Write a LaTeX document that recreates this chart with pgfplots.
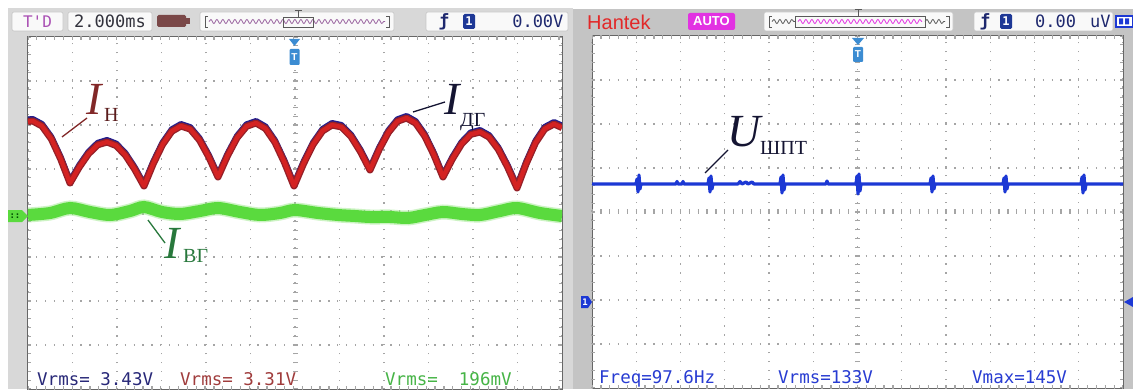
\documentclass[border=0pt]{standalone}
\usepackage{pgfplots}
\pgfplotsset{compat=1.18}
\usepackage{pgfplotstable}
\usepackage{fontspec}
\setmainfont{Liberation Serif}
\newfontfamily\scfont{DejaVu Sans Mono}
\newfontfamily\hfont{Liberation Sans}
\usetikzlibrary{decorations.pathmorphing}
\definecolor{panelL}{RGB}{216,216,216}
\definecolor{panelR}{RGB}{196,196,196}
\definecolor{gridc}{RGB}{165,165,165}
\definecolor{tred}{RGB}{212,34,34}
\definecolor{tdred}{RGB}{150,32,40}
\definecolor{tnavy}{RGB}{36,30,140}
\definecolor{tgreen}{RGB}{90,218,62}
\definecolor{tblue}{RGB}{28,56,212}
\definecolor{trig}{RGB}{60,140,210}
\definecolor{labred}{RGB}{130,40,40}
\definecolor{labgreen}{RGB}{40,120,60}
\definecolor{labnavy}{RGB}{20,20,50}
\definecolor{hdrtxt}{RGB}{50,50,60}
\definecolor{navytxt}{RGB}{30,40,110}
\definecolor{purp}{RGB}{170,80,180}
\definecolor{magen}{RGB}{226,50,226}
\definecolor{badge}{RGB}{30,56,150}
\definecolor{batt}{RGB}{122,72,72}

% left scope: x = screen column, y = offset from centre line (1 div = 44.5 x 44)
\pgfplotstableread{
x y
28 91.5
32.75 92
42 87
51.4 74
60.7 54
70 30
79.25 45.9
88.5 59.25
97.75 68.2
107 71
116.25 67.4
125.5 57.75
134.75 43.7
144 27
153.25 49.4
162.5 68.45
171.75 81.7
181 87
190.25 83.9
199.5 72.95
208.75 56.2
218 36
227.5 57.3
237 75.15
246.5 86.7
256 90
265.5 84.5
275 70.65
284.5 50.5
294 27
303.5 49.3
313 68.5
322.5 82
332 88
341.5 86
351 76.5
360.5 61.3
370 43
379.1 63.4
388.25 80.45
397.4 91.7
406.5 95
415.6 89.9
424.75 76.95
433.9 58.2
443 36
452.25 53.9
461.5 68.95
470.75 78.6
480 81
489.25 75.8
498.5 63.45
507.75 45.7
517 25
526.25 49.5
535.5 70.25
544.75 84.1
554 89
562 85.4
}\redtab

\pgfplotstableread{
x y
28 -2
50 0
70 5
90 1
110 -2
130 2
144 6
162 1
180 -1
200 2
218 5
240 1
260 -2
280 0
295 3
318 0
338 -2
355 -3
370 -4
390 -4
408 -5
425 -2
443 1
462 -1
480 -2
500 2
517 5
540 0
562 -3
}\greentab

\pgfplotstableread{
x y
592 28
636 28
637 33
638 20
639 37
640 23
641 28
676 28
677 30.5
678 28
682 28
683 30.5
684 28
708 28
709 34
710 20
711 36
712 23
713 28
738 28
740 30.5
742 28
746 30
748 28
752 30
754 28
780 28
781 35
782 19
783 37
784 22
785 28
826 28
827 31
828 28
856 28
857 36
858 18
859 38
860 21
861 28
930 28
931 34
932 20
933 36
934 23
935 28
1003 28
1004 34
1005 20
1006 36
1007 23
1008 28
1081 28
1082 35
1083 19
1084 37
1085 22
1086 28
1123 28
}\bluetab

\pgfplotsset{scopegrid/.style={
  x=1pt, y=1pt, anchor=south west,
  ymin=-176, ymax=176,
  axis background/.style={fill=white},
  axis line style={draw=gray!80!black, line width=1pt},
  ytick={-176,-132,-88,-44,0,44,88,132,176},
  xticklabels={}, yticklabels={},
  major tick length=0pt,
  grid=major,
  major grid style={draw=gridc, line width=1.3pt, dash pattern=on 1.3pt off 7.55pt, dash phase=0.65pt},
}}

\begin{document}
\begin{tikzpicture}[x=1pt,y=1pt]
\path[use as bounding box] (0,0) rectangle (1133,389);
\fill[white] (0,0) rectangle (1133,389);
\fill[panelL] (8,0) rectangle (573,381);
\fill[panelR] (573,0) rectangle (1133,380);

% ---------- left header ----------
\tikzset{hbox/.style={fill=white!95!gray, draw=gray!45, line width=0.6pt, rounded corners=2pt}}
\draw[hbox] (12,358) rectangle (63,377);
\node[text=purp, font=\scfont\fontsize{16}{16}\selectfont] at (37.5,367.5) {T'D};
\draw[hbox] (68,358) rectangle (152,377);
\node[text=hdrtxt, font=\scfont\fontsize{17}{17}\selectfont] at (110,367.5) {2.000ms};
\fill[batt, rounded corners=1.5pt] (157,362) rectangle (186,374);
\fill[batt] (186,365) rectangle (190,371);
\draw[hbox] (200,358) rectangle (394,377);
\draw[gray!70!black, line width=0.8pt] (208,373) -- (205,373) -- (205,362) -- (208,362);
\draw[gray!70!black, line width=0.8pt] (386,373) -- (389,373) -- (389,362) -- (386,362);
\draw[purp!60!gray, line width=0.8pt, decorate, decoration={snake, amplitude=2pt, segment length=6pt}] (209,367.5) -- (385,367.5);
\draw[gray!70!black, line width=0.8pt] (283,362) rectangle (313,372);
\draw[gray!70!black, line width=1pt] (298,372) -- (298,378) (294.5,378) -- (301.5,378);
\draw[hbox] (426,358) rectangle (568,377);
\node[text=navytxt, font=\scfont\bfseries\fontsize{17}{17}\selectfont] at (444,367.5) {\char"0192};
\fill[badge, rounded corners=1.5pt] (463,360) rectangle (475,375);
\node[text=white, font=\scfont\bfseries\fontsize{12}{12}\selectfont] at (469,367.5) {1};
\node[anchor=east, text=navytxt, font=\scfont\fontsize{17}{17}\selectfont] at (567,367.5) {0.00V};

% ---------- right header ----------
\node[anchor=west, inner sep=0, text={rgb,255:red,226;green,40;blue,40}, font=\hfont\fontsize{20}{20}\selectfont] at (587,367) {Hantek};
\fill[magen, rounded corners=2pt] (688,359) rectangle (735,376);
\node[text=white, font=\hfont\bfseries\fontsize{13}{13}\selectfont] at (711.5,367.5) {AUTO};
\draw[hbox] (764,358) rectangle (953,377);
\draw[gray!70!black, line width=0.8pt] (772,373) -- (769,373) -- (769,362) -- (772,362);
\draw[gray!70!black, line width=0.8pt] (946,373) -- (949,373) -- (949,362) -- (946,362);
\draw[gray!70!black, line width=0.8pt, decorate, decoration={snake, amplitude=2pt, segment length=6pt}] (772,367.5) -- (795,367.5);
\draw[gray!70!black, line width=0.8pt, decorate, decoration={snake, amplitude=2pt, segment length=6pt}] (925,367.5) -- (945,367.5);
\draw[gray!70!black, line width=0.8pt] (795,362) rectangle (925,373);
\draw[magen, line width=0.8pt, decorate, decoration={snake, amplitude=2pt, segment length=6pt}] (798,367.5) -- (922,367.5);
\draw[gray!70!black, line width=1pt] (858,373) -- (858,379) (854.5,379) -- (861.5,379);
\draw[hbox] (974,358) rectangle (1113,377);
\node[text=navytxt, font=\scfont\bfseries\fontsize{17}{17}\selectfont] at (985,367.5) {\char"0192};
\fill[badge, rounded corners=1.5pt] (1000,360) rectangle (1012,375);
\node[text=white, font=\scfont\bfseries\fontsize{12}{12}\selectfont] at (1006,367.5) {1};
\node[anchor=west, inner sep=0, text=navytxt, font=\scfont\fontsize{17}{17}\selectfont] at (1035,367.5) {0.00};
\node[anchor=west, inner sep=0, text=navytxt, font=\scfont\fontsize{17}{17}\selectfont] at (1090,367.5) {uV};
\draw[tblue, line width=1.2pt, fill=white] (1116,362) rectangle (1133,373);
\fill[tblue] (1119,364.5) rectangle (1123,370.5) (1125,364.5) rectangle (1129,370.5);

% ---------- left scope ----------
\begin{axis}[scopegrid, at={(28,0)},
  xmin=28, xmax=562,
  xtick={28,72.5,117,161.5,206,250.5,295,339.5,384,428.5,473,517.5,562}]
\draw[gridc, line width=5pt, dash pattern=on 1.3pt off 7.55pt, dash phase=0.65pt] (axis cs:28,0) -- (axis cs:562,0);
\draw[gridc, line width=5pt, dash pattern=on 1.3pt off 7.5pt, dash phase=0.65pt] (axis cs:295,-176) -- (axis cs:295,176);
\draw[gridc, line width=6pt, dash pattern=on 1.3pt off 7.55pt, dash phase=0.65pt] (axis cs:28,176) -- (axis cs:562,176) (axis cs:28,-176) -- (axis cs:562,-176);
\draw[gridc, line width=6pt, dash pattern=on 1.3pt off 7.5pt, dash phase=0.65pt] (axis cs:28,-176) -- (axis cs:28,176) (axis cs:562,-176) -- (axis cs:562,176);
\addplot[tgreen!60!white, line width=15pt, smooth, tension=0.5, opacity=0.5] table {\greentab};
\addplot[tgreen, line width=12pt, smooth, tension=0.5] table {\greentab};
\addplot[tnavy, line width=6pt, line join=round, yshift=2pt] table {\redtab};
\addplot[tdred, line width=7pt, line join=round] table {\redtab};
\addplot[tred, line width=4.3pt, line join=round] table {\redtab};
\end{axis}

% ---------- right scope ----------
\begin{axis}[scopegrid, at={(592,1)},
  xmin=592, xmax=1123,
  xtick={592,636.25,680.5,724.75,769,813.25,857.5,901.75,946,990.25,1034.5,1078.75,1123}]
\draw[gridc, line width=5pt, dash pattern=on 1.3pt off 7.55pt, dash phase=0.65pt] (axis cs:592,0) -- (axis cs:1123,0);
\draw[gridc, line width=5pt, dash pattern=on 1.3pt off 7.5pt, dash phase=0.65pt] (axis cs:857.5,-176) -- (axis cs:857.5,176);
\draw[gridc, line width=6pt, dash pattern=on 1.3pt off 7.55pt, dash phase=0.65pt] (axis cs:592,176) -- (axis cs:1123,176) (axis cs:592,-176) -- (axis cs:1123,-176);
\draw[gridc, line width=6pt, dash pattern=on 1.3pt off 7.5pt, dash phase=0.65pt] (axis cs:592,-176) -- (axis cs:592,176) (axis cs:1123,-176) -- (axis cs:1123,176);
\addplot[tblue, line width=3.2pt, line join=round] table {\bluetab};
\end{axis}

% ---------- markers ----------
\fill[trig] (289,350) -- (300,350) -- (294.5,343) -- cycle;
\fill[trig, rounded corners=1pt] (289.5,324) rectangle (299.5,340);
\node[text=white, font=\hfont\bfseries\fontsize{10}{10}\selectfont] at (294.5,332) {T};
\fill[trig] (852,351) -- (864,351) -- (858,344) -- cycle;
\fill[trig, rounded corners=1pt] (853,327) rectangle (863,342);
\node[text=white, font=\hfont\bfseries\fontsize{10}{10}\selectfont] at (858,334.5) {T};
\fill[tgreen] (8,179) -- (22,179) -- (28,173) -- (22,167) -- (8,167) -- cycle;
\node[text=green!30!black, font=\scfont\bfseries\fontsize{9}{9}\selectfont] at (15,173) {::};
\fill[tblue] (581,93) -- (588,93) -- (592,87) -- (588,81) -- (581,81) -- cycle;
\node[text=white, font=\scfont\bfseries\fontsize{9}{9}\selectfont] at (585,87) {1};
\fill[tblue] (1124,87) -- (1133,92) -- (1133,82) -- cycle;

% ---------- bottom readouts ----------
\tikzset{ro/.style={anchor=base west, inner sep=0, font=\scfont\fontsize{17.5}{17.5}\selectfont}}
\node[ro, text={rgb,255:red,40;green,40;blue,120}] at (37,4) {Vrms= 3.43V};
\node[ro, text={rgb,255:red,160;green,60;blue,60}] at (180,4) {Vrms= 3.31V};
\node[ro, text={rgb,255:red,70;green,180;blue,70}] at (385,4) {Vrms=\ \ 196mV};
\node[ro, text={rgb,255:red,40;green,60;blue,210}] at (599,6) {Freq=97.6Hz};
\node[ro, text={rgb,255:red,40;green,60;blue,210}] at (778,6) {Vrms=133V};
\node[ro, text={rgb,255:red,40;green,60;blue,210}] at (972,6) {Vmax=145V};

% ---------- labels ----------
\tikzset{bigI/.style={anchor=base west, inner sep=0, font=\fontsize{46}{46}\selectfont\itshape},
         sub/.style={anchor=base west, inner sep=0, font=\fontsize{20}{20}\selectfont}}
\node[bigI, text=labred] at (86,274) {I};
\node[sub, text=labred!70!black] at (104,267) {Н};
\draw[labred, line width=1.3pt] (87,271) -- (62,252);

\node[bigI, text=labnavy] at (444,274) {I};
\node[sub, text=labnavy] at (460,262) {ДГ};
\draw[labnavy, line width=1.3pt] (413,277) -- (445,287);

\node[bigI, text=labgreen] at (164,131) {I};
\node[sub, text=labgreen] at (183,127) {ВГ};
\draw[labgreen, line width=1.3pt] (148,169) -- (165,146);

\node[bigI, text=labnavy] at (727,242) {U};
\node[sub, text=labnavy] at (760,234) {ШПТ};
\draw[labnavy, line width=1.3pt] (705,216) -- (728,239);
\end{tikzpicture}
\end{document}
